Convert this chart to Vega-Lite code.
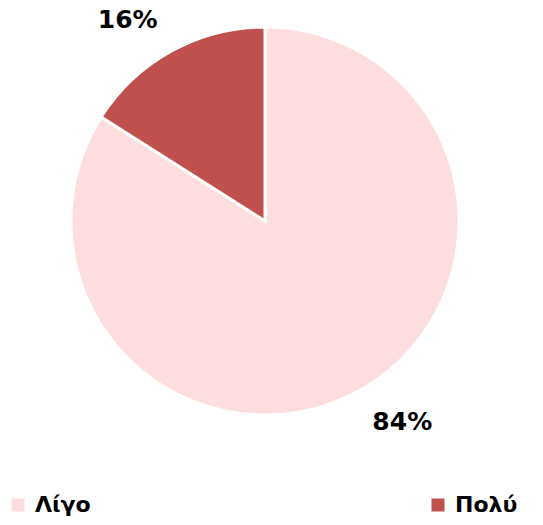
{
  "$schema": "https://vega.github.io/schema/vega-lite/v6.json",
  "width": 530,
  "height": 442,
  "autosize": {"type": "none"},
  "padding": {"left": 0, "top": 0, "right": 13, "bottom": 83},
  "background": "white",
  "config": {"view": {"stroke": null}, "font": "DejaVu Sans"},
  "data": {"values": [
    {"cat": "Λίγο", "value": 84, "label": "84%"},
    {"cat": "Πολύ", "value": 16, "label": "16%"}
  ]},
  "layer": [
    {
      "mark": {"type": "arc", "outerRadius": 194, "stroke": "white", "strokeWidth": 3},
      "encoding": {
        "theta": {"field": "value", "type": "quantitative", "stack": true},
        "order": {"field": "cat", "sort": "ascending"},
        "color": {
          "field": "cat", "type": "nominal",
          "scale": {"domain": ["Λίγο", "Πολύ"], "range": ["#FDDDDD", "#C0504D"]},
          "legend": {
            "title": null, "orient": "none", "legendX": 7, "legendY": 494,
            "direction": "horizontal", "columns": 2, "columnPadding": 336,
            "symbolType": "square", "symbolSize": 169, "symbolStrokeWidth": 0,
            "labelFontSize": 22, "labelFontWeight": "bold", "labelColor": "black",
            "labelOffset": 6, "padding": 0, "labelFont": "DejaVu Sans"
          }
        }
      }
    },
    {
      "mark": {"type": "text", "radius": 243, "fontSize": 25, "fontWeight": "bold", "color": "black", "align": "center", "baseline": "middle"},
      "encoding": {
        "theta": {"field": "value", "type": "quantitative", "stack": true, "scale": {"range": [-0.0977, 6.1855]}},
        "order": {"field": "cat", "sort": "ascending"},
        "text": {"field": "label"}
      }
    }
  ],
  "resolve": {"scale": {"theta": "independent"}}
}
